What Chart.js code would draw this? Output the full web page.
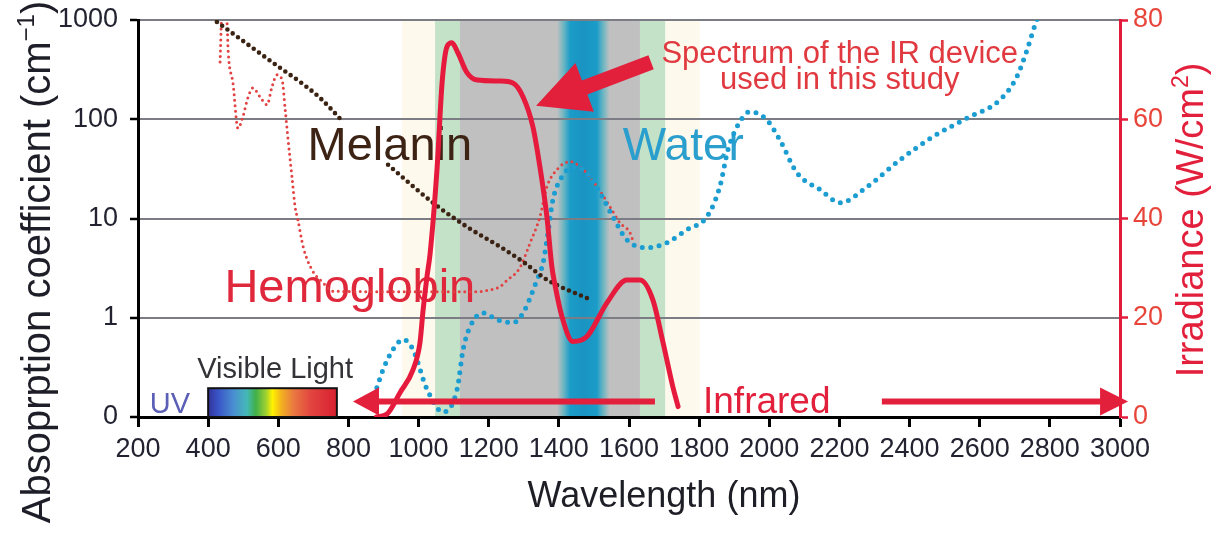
<!DOCTYPE html>
<html><head><meta charset="utf-8">
<script src="https://cdn.jsdelivr.net/npm/chart.js@4/dist/chart.umd.min.js"></script>
<style>html,body{margin:0;padding:0;background:#fff;}#wrap{width:1220px;height:533px;position:relative;}</style>
</head><body><div id="wrap"><canvas id="c"></canvas></div>
<script>
// ---------- data ----------
const xTickRange = [200, 3000, 200];           // wavelength axis min, max, step (nm)
const yTickLabels = ['0', '1', '10', '100', '1000'];  // absorption axis (0..1 linear, then log)
const irrTickRange = [0, 80, 20];               // irradiance axis

const hemoglobinNm  = [434, 440, 448, 454, 457, 471, 485, 499, 514, 528, 548, 568, 582, 596, 611, 619, 628, 639, 648, 656, 671, 696, 728, 756, 947, 1167, 1204, 1232, 1252, 1289, 1318, 1346, 1366, 1395, 1432, 1469, 1509, 1546, 1574, 1603, 1611];
const hemoglobinAbs = [378, 1300, 1300, 935, 492, 229, 81, 106, 168, 207, 168, 140, 212, 280, 249, 133, 62, 26.3, 13.1, 9.7, 5.19, 3.04, 2.25, 1.85, 1.83, 1.83, 1.91, 2.05, 2.38, 3.2, 5.69, 10.4, 20.9, 31.2, 37.5, 31.2, 20.9, 13.1, 9.06, 7.18, 6.0];

const waterNm  = [881, 899, 927, 956, 984, 1024, 1070, 1110, 1127, 1147, 1184, 1224, 1269, 1298, 1338, 1355, 1369, 1383, 1409, 1440, 1480, 1517, 1554, 1594, 1651, 1708, 1765, 1822, 1859, 1882, 1908, 1945, 1993, 2030, 2079, 2145, 2202, 2279, 2373, 2467, 2564, 2658, 2706, 2735, 2758, 2772];
const waterAbs = [0.295, 0.48, 0.68, 0.78, 0.68, 0.28, 0.05, 0.28, 0.68, 0.91, 1.12, 0.98, 0.95, 1.12, 2.42, 3.58, 7.18, 15.4, 26.3, 33, 28.8, 18.2, 10.4, 6.1, 5.07, 5.7, 7.7, 10.4, 20.9, 49, 84, 119, 98.6, 62, 28.8, 19.5, 14.4, 20.9, 39, 66.7, 103, 157, 268, 500, 898, 1200];

const melaninNm  = [425, 605, 662, 719, 785, 830, 913, 1041, 1138, 1232, 1298, 1366, 1483];
const melaninAbs = [957, 330, 238, 164, 94.2, null, 34.8, 14.4, 8.25, 5.2, 3.66, 2.42, 1.56];

const irrNm    = [880, 910, 947, 984, 1004, 1013, 1024, 1033, 1053, 1067, 1081, 1095, 1112, 1138, 1167, 1232, 1269, 1298, 1326, 1346, 1366, 1380, 1389, 1409, 1440, 1480, 1537, 1594, 1631, 1668, 1697, 1725, 1740];
const irrValue = [0, 0.6, 4.9, 9.5, 15, 21.6, 28.3, 33, 50.4, 67.3, 74.6, 75.4, 73.4, 69.4, 67.9, 67.7, 67.3, 64.5, 58.5, 50.4, 40.3, 30.3, 26.6, 20.2, 15.2, 16.2, 23, 27.6, 27.6, 23.6, 15, 6.1, 2.1];

// ---------- helpers ----------
const FONT = '"Liberation Sans", Arial, Helvetica, sans-serif';
const toAxis = v => v === null ? null : (v < 1 ? v : 1 + Math.log10(v));
const pts = (xs, ys, f) => xs.map((x, i) => ({x, y: f ? f(ys[i]) : ys[i]}));

// annotation layout (in data units of the chart's scales)
const bands = {cream: [953, 1802], green: [1047, 1703], gray: [1118, 1631], water: [1395, 1432, 1508, 1545]};
const visibleBar = {nm: [400, 767], abs: [0, 0.29]};

function txt(ctx, s, x, y, size, color, align) {
  ctx.save();
  ctx.font = size + 'px ' + FONT;
  ctx.fillStyle = color;
  ctx.textAlign = align || 'center';
  ctx.textBaseline = 'alphabetic';
  ctx.fillText(s, x, y);
  ctx.restore();
}
function supText(ctx, parts, cx, cy, rot, color) {
  ctx.save();
  ctx.translate(cx, cy); ctx.rotate(rot);
  ctx.fillStyle = color; ctx.textAlign = 'left'; ctx.textBaseline = 'alphabetic';
  let total = 0;
  const w = parts.map(p => { ctx.font = p.size + 'px ' + FONT; const m = ctx.measureText(p.t).width; total += m; return m; });
  let x = -total / 2;
  parts.forEach((p, i) => { ctx.font = p.size + 'px ' + FONT; ctx.fillText(p.t, x, p.dy || 0); x += w[i]; });
  ctx.restore();
}
function arrow(ctx, x1, y1, x2, y2, shaftW, headL, headW, color) {
  const dx = x2 - x1, dy = y2 - y1, L = Math.hypot(dx, dy);
  const ux = dx / L, uy = dy / L, nx = -uy, ny = ux;
  const bx = x2 - ux * headL, by = y2 - uy * headL;
  ctx.save();
  ctx.fillStyle = color;
  ctx.beginPath();
  ctx.moveTo(x1 + nx * shaftW / 2, y1 + ny * shaftW / 2);
  ctx.lineTo(bx + nx * shaftW / 2, by + ny * shaftW / 2);
  ctx.lineTo(bx + nx * headW, by + ny * headW);
  ctx.lineTo(x2, y2);
  ctx.lineTo(bx - nx * headW, by - ny * headW);
  ctx.lineTo(bx - nx * shaftW / 2, by - ny * shaftW / 2);
  ctx.lineTo(x1 - nx * shaftW / 2, y1 - ny * shaftW / 2);
  ctx.closePath();
  ctx.fill();
  ctx.restore();
}

const RED = '#e3203c';
const annot = {
  id: 'annot',
  beforeDraw(chart) {
    const {ctx, chartArea: a, scales: {x}} = chart;
    const X = v => x.getPixelForValue(v);
    ctx.save();
    ctx.fillStyle = '#fdf9ec'; ctx.fillRect(X(bands.cream[0]), a.top, X(bands.cream[1]) - X(bands.cream[0]), a.bottom - a.top);
    ctx.fillStyle = '#c4e2c8'; ctx.fillRect(X(bands.green[0]), a.top, X(bands.green[1]) - X(bands.green[0]), a.bottom - a.top);
    ctx.fillStyle = '#c0c0c0'; ctx.fillRect(X(bands.gray[0]), a.top, X(bands.gray[1]) - X(bands.gray[0]), a.bottom - a.top);
    const w = bands.water, x0 = X(w[0]), x3 = X(w[3]);
    const g = ctx.createLinearGradient(x0, 0, x3, 0);
    const f = v => (X(v) - x0) / (x3 - x0);
    g.addColorStop(0, '#c0c0c0');
    g.addColorStop(f(w[1]) * 0.5, '#6cb6c2');
    g.addColorStop(f(w[1]), '#1b9cc8');
    g.addColorStop((f(w[1]) + f(w[2])) / 2, '#1a94c2');
    g.addColorStop(f(w[2]), '#1b9cc8');
    g.addColorStop((1 + f(w[2])) / 2, '#6cb6c2');
    g.addColorStop(1, '#c0c0c0');
    ctx.fillStyle = g; ctx.fillRect(x0, a.top, x3 - x0, a.bottom - a.top);
    ctx.restore();
  },
  beforeDatasetsDraw(chart) {
    const {ctx, scales: {x, y}} = chart;
    const X = v => x.getPixelForValue(v), Y = v => y.getPixelForValue(v);
    txt(ctx, 'Melanin', X(918), Y(2.591), 47, '#3d2314');
    txt(ctx, 'Water', X(1755), Y(2.591), 46, '#2a9fce');
    txt(ctx, 'Hemoglobin', X(804), Y(1.161), 47, '#e0283c');
    txt(ctx, 'Visible Light', X(591), Y(0.396), 29, '#333338');
    txt(ctx, 'UV', X(291), Y(0.043), 29, '#5b5fb5');
    // visible light colour bar
    const bx0 = X(visibleBar.nm[0]), bx1 = X(visibleBar.nm[1]);
    const by0 = Y(visibleBar.abs[1]), by1 = Y(visibleBar.abs[0]);
    const g = ctx.createLinearGradient(bx0, 0, bx1, 0);
    [[0, '#33339a'], [0.08, '#3a56c8'], [0.2, '#4a90d0'], [0.3, '#44b8b8'], [0.37, '#40b048'], [0.45, '#a0d030'],
     [0.5, '#fff200'], [0.57, '#f2b020'], [0.66, '#ea7a40'], [0.8, '#e24440'], [1, '#d82030']].forEach(s => g.addColorStop(s[0], s[1]));
    ctx.save();
    ctx.fillStyle = g; ctx.fillRect(bx0, by0, bx1 - bx0, by1 - by0);
    ctx.strokeStyle = '#111'; ctx.lineWidth = 2; ctx.strokeRect(bx0, by0, bx1 - bx0, by1 - by0);
    ctx.restore();
  },
  afterDatasetsDraw(chart) {
    const {ctx, scales: {x, y2}} = chart;
    const X = v => x.getPixelForValue(v), Y = v => y2.getPixelForValue(v);
    arrow(ctx, X(1674), Y(3.1), X(813), Y(3.1), 6, 26, 14, RED);
    arrow(ctx, X(2321), Y(3.1), X(3023), Y(3.1), 6, 28, 14, RED);
    arrow(ctx, X(1663), Y(71.5), X(1335), Y(62.7), 15, 52, 26, RED);
    txt(ctx, 'Infrared', X(1811), Y(0.85), 37, RED, 'left');
    txt(ctx, 'Spectrum of the IR device', X(2201), Y(71.35), 31, '#e03a40');
    txt(ctx, 'used in this study', X(2201), Y(66.1), 31, '#e03a40');
  },
  afterDraw(chart) {
    const {ctx, chartArea: a} = chart;
    txt(ctx, 'Wavelength (nm)', a.left + 526, a.bottom + 90, 36, '#1e1e26');
    supText(ctx, [{t: 'Absoprption coefficient (cm', size: 40}, {t: '\u22121', size: 24, dy: -16}, {t: ')', size: 40}],
            50, a.top + 242, -Math.PI / 2, '#1e1e28');
    supText(ctx, [{t: 'Irradiance (W/cm', size: 38}, {t: '2', size: 23, dy: -15}, {t: ')', size: 38}],
            a.right + 83, a.top + 200, -Math.PI / 2, RED);
  }
};

const tickFont = {family: FONT, size: 27};
const sideTickFont = {family: FONT, size: 27, lineHeight: 0.55};
new Chart(document.getElementById('c'), {
  type: 'line',
  data: {
    datasets: [
      {label: 'Irradiance', yAxisID: 'y2', data: pts(irrNm, irrValue), borderColor: '#e61a3d', borderWidth: 5,
       cubicInterpolationMode: 'monotone', pointRadius: 0, order: 1, borderJoinStyle: 'round', borderCapStyle: 'round'},
      {label: 'Melanin', yAxisID: 'y', data: pts(melaninNm, melaninAbs, toAxis), borderColor: '#3b2314', borderWidth: 4.6,
       borderDash: [0, 6.5], borderCapStyle: 'round', cubicInterpolationMode: 'monotone', pointRadius: 0, order: 2},
      {label: 'Water', yAxisID: 'y', data: pts(waterNm, waterAbs, toAxis), borderColor: '#1b9dd2', borderWidth: 5,
       borderDash: [0, 8.5], borderCapStyle: 'round', cubicInterpolationMode: 'monotone', pointRadius: 0, order: 3},
      {label: 'Hemoglobin', yAxisID: 'y', data: pts(hemoglobinNm, hemoglobinAbs, toAxis), borderColor: '#e24242', borderWidth: 3,
       borderDash: [0, 5.5], borderCapStyle: 'round', cubicInterpolationMode: 'monotone', pointRadius: 0, order: 4}
    ]
  },
  options: {
    responsive: true, maintainAspectRatio: false, animation: false,
    layout: {padding: {top: 20, left: 0, right: 0, bottom: 0}},
    plugins: {legend: {display: false}, tooltip: {enabled: false}},
    elements: {point: {radius: 0}},
    scales: {
      x: {type: 'linear', position: 'bottom', min: xTickRange[0], max: xTickRange[1],
          ticks: {stepSize: xTickRange[2], autoSkip: false, maxRotation: 0, color: '#222230', font: tickFont, padding: 6,
                  callback: v => String(v)},
          grid: {drawOnChartArea: false, drawTicks: true, tickLength: 10, tickColor: '#000', tickWidth: 3},
          border: {color: '#000', width: 3},
          afterFit(s) { s.height = 116; }},
      y: {type: 'linear', position: 'left', min: 0, max: yTickLabels.length - 1,
          ticks: {stepSize: 1, callback: v => yTickLabels[v], color: '#222230', font: sideTickFont, padding: 12},
          grid: {color: '#7c7c84', lineWidth: 2, tickLength: 8, tickColor: '#000', tickWidth: 2.5},
          border: {color: '#000', width: 3},
          afterFit(s) { s.width = 138; }},
      y2: {type: 'linear', position: 'right', min: irrTickRange[0], max: irrTickRange[1],
          ticks: {stepSize: irrTickRange[2], color: '#e8453a', font: sideTickFont, padding: 5},
          grid: {drawOnChartArea: false, tickLength: 8, tickColor: '#e31b3b', tickWidth: 2.5},
          border: {color: '#e31b3b', width: 3},
          afterFit(s) { s.width = 100; }}
    }
  },
  plugins: [annot]
});
</script>
</body></html>
